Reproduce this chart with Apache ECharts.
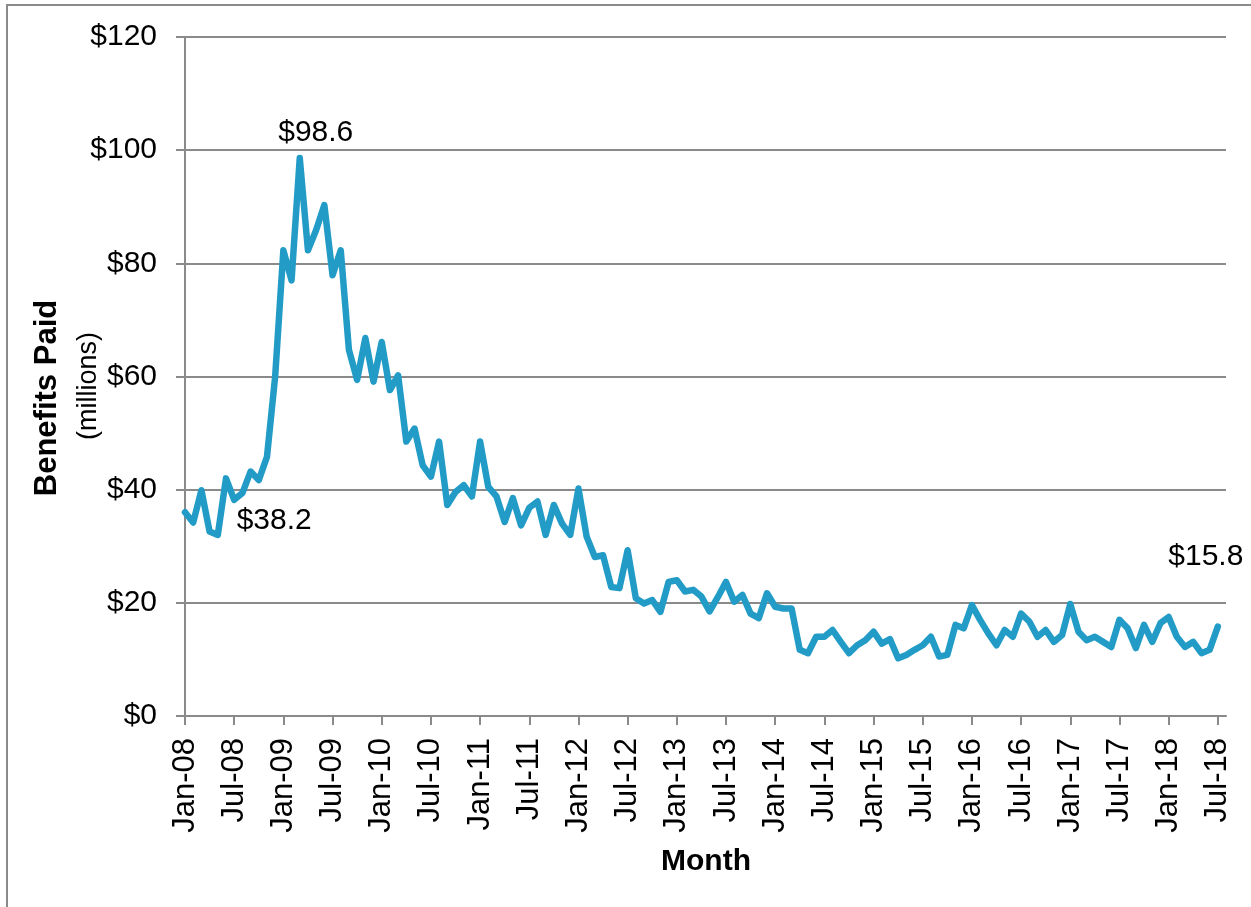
<!DOCTYPE html>
<html>
<head>
<meta charset="utf-8">
<script src="https://cdn.jsdelivr.net/npm/echarts@6/dist/echarts.min.js"></script>
<style>
    html, body { margin: 0; padding: 0; background: #fff; }
    #chart { width: 1251px; height: 907px; }
</style>
</head>
<body>
<div id="chart"></div>
<script>
// monthly benefits paid, Jan-08 .. Jul-18 ($ millions)
const startYear = 8;
const monthNames = ['Jan', 'Feb', 'Mar', 'Apr', 'May', 'Jun', 'Jul', 'Aug', 'Sep', 'Oct', 'Nov', 'Dec'];
const benefits = [
    36.0, 34.2, 39.9, 32.6, 32.0, 42.0, 38.2, 39.4, 43.2, 41.7, 45.8, 60.0,
    82.3, 77.0, 98.6, 82.3, 85.9, 90.3, 77.9, 82.3, 64.7, 59.4, 66.8, 59.1,
    66.1, 57.6, 60.2, 48.5, 50.8, 44.3, 42.3, 48.5, 37.3, 39.6, 40.8, 38.8,
    48.5, 40.5, 38.8, 34.3, 38.5, 33.7, 36.8, 37.9, 32.0, 37.3, 34.0, 32.0,
    40.2, 31.7, 28.1, 28.4, 22.8, 22.6, 29.3, 20.8, 19.9, 20.5, 18.4, 23.7,
    24.0, 22.0, 22.3, 21.1, 18.5, 21.0, 23.7, 20.2, 21.4, 18.1, 17.3, 21.7,
    19.3, 19.0, 19.0, 11.7, 11.1, 14.0, 14.0, 15.2, 13.1, 11.1, 12.5, 13.4,
    14.9, 12.8, 13.6, 10.2, 10.8, 11.7, 12.5, 14.0, 10.5, 10.8, 16.1, 15.5,
    19.6, 17.0, 14.6, 12.5, 15.2, 14.0, 18.1, 16.7, 14.0, 15.2, 13.1, 14.3,
    19.8, 14.9, 13.4, 14.0, 13.1, 12.2, 17.0, 15.5, 12.0, 16.1, 13.1, 16.4,
    17.5, 14.0, 12.2, 13.1, 11.1, 11.7, 15.8
];
// one extra month so the axis runs a little past the last point
const months = [];
for (let i = 0; i <= benefits.length; i++) {
    const y = startYear + Math.floor(i / 12);
    months.push(monthNames[i % 12] + '-' + String(y).padStart(2, '0'));
}
const yTicks = [0, 20, 40, 60, 80, 100, 120];
// labelled points: month index -> label placement
const callouts = {
    14: { position: 'top', offset: [16, -6] },
    6: { position: 'right', offset: [-2, 21] },
    126: { position: 'top', offset: [-12, -50] }
};

(function () {
    const myChart = echarts.init(document.getElementById('chart'));
    const font = '"Liberation Sans", Arial, sans-serif';
    const labelData = Object.keys(callouts).map(k => {
        const i = Number(k);
        const c = callouts[k];
        return {
            value: [i, benefits[i]],
            label: {
                show: true,
                position: c.position,
                offset: c.offset,
                distance: 4,
                formatter: '$' + benefits[i].toFixed(1),
                color: '#000',
                opacity: 1,
                fontSize: 30,
                fontFamily: font
            }
        };
    });
    const option = {
        animation: false,
        backgroundColor: '#fff',
        grid: {
            left: 185,
            right: 25,
            top: 37,
            bottom: 191
        },
        graphic: [
            {
                type: 'rect',
                shape: { x: 7, y: 5, width: 1300, height: 960 },
                style: { fill: 'none', stroke: '#8a8a8a', lineWidth: 2 },
                silent: true
            },
            {
                type: 'text',
                x: 47,
                y: 398,
                rotation: Math.PI / 2,
                style: {
                    text: 'Benefits Paid',
                    font: 'bold 31px ' + font,
                    fill: '#000',
                    textAlign: 'center',
                    textVerticalAlign: 'middle'
                }
            },
            {
                type: 'text',
                x: 89,
                y: 386,
                rotation: Math.PI / 2,
                style: {
                    text: '(millions)',
                    font: '27px ' + font,
                    fill: '#000',
                    textAlign: 'center',
                    textVerticalAlign: 'middle'
                }
            },
            {
                type: 'text',
                x: 706,
                y: 862,
                style: {
                    text: 'Month',
                    font: 'bold 30px ' + font,
                    fill: '#000',
                    textAlign: 'center',
                    textVerticalAlign: 'middle'
                }
            }
        ],
        xAxis: {
            type: 'category',
            boundaryGap: false,
            data: months,
            axisLine: {
                show: true,
                lineStyle: { color: '#8a8a8a', width: 2 }
            },
            axisTick: {
                show: true,
                interval: 5,
                length: 9,
                lineStyle: { color: '#8a8a8a', width: 2 }
            },
            axisLabel: {
                interval: 5,
                rotate: 90,
                margin: 22,
                color: '#000',
                fontSize: 31,
                fontFamily: font
            },
            splitLine: { show: false }
        },
        yAxis: {
            type: 'value',
            min: 0,
            max: 120,
            interval: 20,
            axisLine: {
                show: true,
                lineStyle: { color: '#8a8a8a', width: 2 }
            },
            axisTick: {
                show: true,
                length: 9,
                lineStyle: { color: '#8a8a8a', width: 2 }
            },
            axisLabel: {
                margin: 28,
                color: '#000',
                fontSize: 30,
                fontFamily: font,
                formatter: v => yTicks.includes(v) ? '$' + v : ''
            },
            splitLine: {
                lineStyle: { color: '#8a8a8a', width: 2 }
            }
        },
        series: [
            {
                name: 'Benefits Paid',
                type: 'line',
                data: benefits,
                showSymbol: false,
                symbol: 'none',
                lineStyle: {
                    color: '#229cc6',
                    width: 6.5,
                    join: 'round',
                    cap: 'round'
                },
                z: 3
            },
            {
                // value callouts
                name: 'labels',
                type: 'scatter',
                data: labelData,
                symbolSize: 1,
                itemStyle: { color: 'transparent', opacity: 1 },
                silent: true,
                z: 4
            }
        ]
    };
    myChart.setOption(option);
    window.addEventListener('resize', () => {
        myChart.resize();
    });
})();
</script>
</body>
</html>
